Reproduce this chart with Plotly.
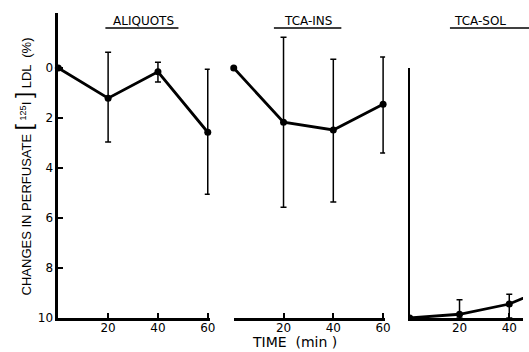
import plotly.graph_objects as go

# ---------------- data ----------------
TIME = [0, 20, 40, 60]

ALIQ_Y = [0.0, 1.21, 0.15, 2.57]
ALIQ_TOP = [None, -0.63, -0.23, 0.05]     # upper end of bar on screen
ALIQ_BOT = [None, 2.96, 0.56, 5.05]       # lower end of bar on screen

INS_Y = [0.0, 2.17, 2.48, 1.45]
INS_TOP = [None, -1.23, -0.35, -0.44]
INS_BOT = [None, 5.57, 5.36, 3.40]

SOL_Y = [10.0, 9.85, 9.44, 8.6]
SOL_TOP = [None, 9.27, 9.05, None]
SOL_BOT = [None, 10.0, 10.0, None]

PANEL_TITLES = ["ALIQUOTS", "TCA-INS", "TCA-SOL"]
Y_TICKS = [0, 2, 4, 6, 8, 10]
X_TICKS = [20, 40, 60]

# ---------------- geometry ----------------
W, H = 529, 352
L, R, T, B = 58, 0, 13, 34
PW, PH = W - L - R, H - T - B
PXU = 2.52          # pixels per minute
XPAD = 0.8          # small range pad so end error bars are not clipped


def px(x):
    return (x - L) / PW


def py(y):
    return (H - B - y) / PH


def err(y, top, bot):
    plus = [(b - v) if b is not None else 0 for v, b in zip(y, bot)]
    minus = [(v - t) if t is not None else 0 for v, t in zip(y, top)]
    return plus, minus


fig = go.Figure()
FONT = "DejaVu Sans, Arial, sans-serif"

series = [(ALIQ_Y, ALIQ_TOP, ALIQ_BOT), (INS_Y, INS_TOP, INS_BOT), (SOL_Y, SOL_TOP, SOL_BOT)]
for i, (y, top, bot) in enumerate(series):
    plus, minus = err(y, top, bot)
    sfx = "" if i == 0 else str(i + 1)
    fig.add_trace(go.Scatter(
        x=TIME, y=y, mode="lines+markers", cliponaxis=(i == 2),
        line=dict(color="black", width=2.8),
        marker=dict(color="black", size=7),
        error_y=dict(type="data", symmetric=False, array=plus, arrayminus=minus,
                     color="black", thickness=1.5, width=3),
        xaxis="x" + sfx, yaxis="y" + sfx, showlegend=False,
    ))

yr = [10, (T - 68) / 25.0]  # reversed: 10 at bottom, top of axis above 0

axis_common = dict(showgrid=False, zeroline=False, linecolor="black",
                   tickfont=dict(family=FONT, size=12, color="black"))
xt = dict(ticks="inside", ticklen=5, tickwidth=1.5, tickcolor="black",
          ticklabelstandoff=-3)

fig.update_layout(
    width=W, height=H, margin=dict(l=L, r=R, t=T, b=B),
    paper_bgcolor="white", plot_bgcolor="white",
    xaxis=dict(domain=[px(58.3), px(209.7 + XPAD * PXU)], range=[0, 60 + XPAD], showline=True,
               linewidth=3, tickvals=X_TICKS, anchor="y", **xt, **axis_common),
    yaxis=dict(domain=[0, 1], range=yr, showline=True, linewidth=2.5,
               ticks="inside", ticklen=5, tickwidth=1.5, tickcolor="black",
               tickvals=Y_TICKS, anchor="x", **axis_common),
    xaxis2=dict(domain=[px(236), px(387.3 + XPAD * PXU)], range=[0, 60 + XPAD], showline=True,
                linewidth=3, tickvals=X_TICKS, anchor="y2",
                minor=dict(tickvals=[0], ticks="inside", ticklen=5, tickwidth=1.5,
                           tickcolor="black", showgrid=False),
                **xt, **axis_common),
    yaxis2=dict(domain=[0, 1], range=yr, showline=False, showticklabels=False,
                ticks="", anchor="x2", **axis_common),
    xaxis3=dict(domain=[px(414.3), 1.0], range=[0, (W - 414.3) / PXU], showline=True, linewidth=3,
                tickvals=X_TICKS, anchor="y3", **xt, **axis_common),
    yaxis3=dict(domain=[0, py(68)], range=[10, 0], showline=True, linewidth=1.8,
                ticks="inside", ticklen=5, tickwidth=1.5, tickcolor="black",
                tickvals=[0], showticklabels=False, anchor="x3", **axis_common),
)

# panel titles with underline
title_pos = [(145, "center", 106, 180), (311, "center", 276.7, 345), (457, "left", 455, 545)]
for name, (cx, anc, u0, u1) in zip(PANEL_TITLES, title_pos):
    fig.add_annotation(text=name, xref="paper", yref="paper", x=px(cx), y=py(20.5),
                       showarrow=False, xanchor=anc, yanchor="middle",
                       font=dict(family=FONT, size=12, color="black"))
    fig.add_shape(type="line", xref="paper", yref="paper", x0=px(u0), x1=px(u1),
                  y0=py(28), y1=py(28), line=dict(color="black", width=1.3))

# y title
fig.add_annotation(
    text="CHANGES IN PERFUSATE <span style='font-size:22px'>[</span> <sup>125</sup>I "
         "<span style='font-size:22px'>]</span> LDL  (%)",
    xref="paper", yref="paper", x=px(23), y=py(166), textangle=-90,
    showarrow=False, xanchor="center", yanchor="middle",
    font=dict(family="Liberation Sans Narrow, Arial Narrow, Liberation Sans, sans-serif",
              size=13, color="black"))

# x title
fig.add_annotation(text="TIME  (min )", xref="paper", yref="paper", x=px(297.5), y=py(342),
                   showarrow=False, xanchor="center", yanchor="middle",
                   font=dict(family=FONT, size=14, color="black"))

fig.write_html("out.html", config={"displayModeBar": False},
               post_script="document.body.style.margin='0';document.body.style.overflow='hidden';")
